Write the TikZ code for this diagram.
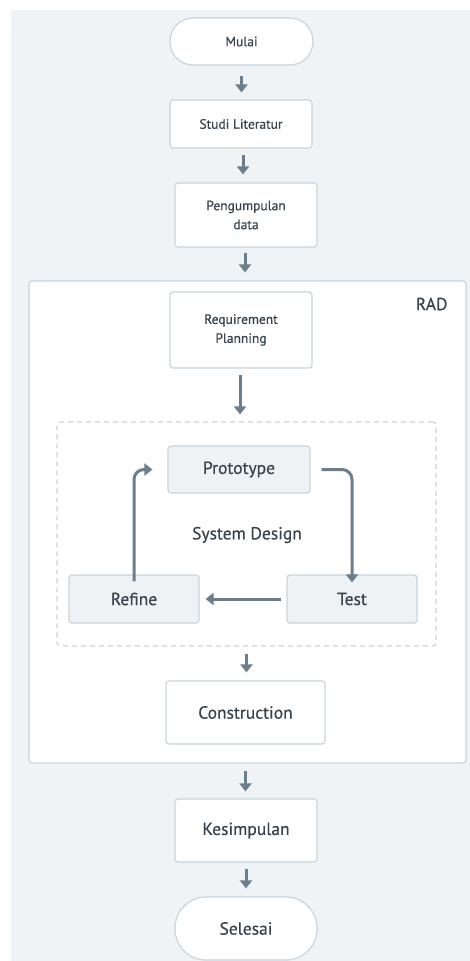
\documentclass[tikz,border=0pt]{standalone}
\usepackage{fontspec}
\setmainfont{PT Sans}[FakeBold=0.5]
\usetikzlibrary{arrows.meta}
\definecolor{bg}{HTML}{EFF3F6}
\definecolor{bd}{HTML}{C9D4DD}
\definecolor{lf}{HTML}{EEF2F5}
\definecolor{ac}{HTML}{6C7D8C}
\definecolor{tx}{HTML}{38434E}
\tikzset{
  base/.style={draw=bd, line width=1.2pt, text=tx, align=center, inner sep=0pt},
  sbox/.style={base, fill=white, rounded corners=3pt, minimum width=142pt, font=\fontsize{13.5}{19}\selectfont},
  lbox/.style={base, fill=white, rounded corners=3pt, minimum width=142pt, font=\fontsize{17.5}{22}\selectfont},
  gbox/.style={base, fill=lf, rounded corners=3pt, minimum width=142pt, minimum height=47pt, font=\fontsize{17.5}{22}\selectfont},
  term/.style={base, fill=white, rounded corners=23pt, minimum width=143pt},
  arr/.style={draw=ac, line width=3pt, -{Triangle[width=12pt,length=8pt]}},
}
\begin{document}
\begin{tikzpicture}[x=1pt,y=-1pt]
\useasboundingbox (0,0) rectangle (470,961);
\fill[bg] (11,10) rectangle (470,961);
% RAD container
\node[draw=bd, line width=1.2pt, fill=white, rounded corners=3pt, minimum width=437pt, minimum height=482pt, inner sep=0pt] (rad) at (247.5,522) {};
\node[text=tx, font=\fontsize{17.5}{22}\selectfont, anchor=east] (radl) at (451,304) {RAD};
% dashed system design box
\node[draw=bd, line width=1.2pt, dashed, dash pattern=on 5pt off 4pt, rounded corners=3pt, minimum width=379pt, minimum height=224pt, inner sep=0pt] (sd) at (246.5,534) {};
\node[text=tx, font=\fontsize{17.5}{22}\selectfont] (sdl) at (247,535) {System Design};

\node[term, minimum height=47pt, font=\fontsize{13.5}{19}\selectfont] (mulai) at (241.5,41.5) {Mulai};
\node[sbox, minimum height=48pt] (studi) at (241,124) {Studi Literatur};
\node[sbox, minimum height=64pt] (peng) at (246,215) {Pengumpulan\\data};
\node[sbox, minimum height=76pt] (req) at (241,330) {Requirement\\Planning};
\node[gbox] (proto) at (239,469.5) {Prototype};
\node[gbox, minimum width=130pt, minimum height=48pt] (refine) at (134,599) {Refine};
\node[gbox, minimum width=130pt, minimum height=48pt] (test) at (352,599) {Test};
\node[lbox, minimum width=159pt, minimum height=63pt] (cons) at (245.5,712.5) {Construction};
\node[lbox, minimum height=63pt] (kes) at (246,830.5) {Kesimpulan};
\node[term, rounded corners=31pt, minimum width=142pt, minimum height=63pt, font=\fontsize{17.5}{22}\selectfont] (sel) at (246,928.5) {Selesai};

\draw[arr, shorten <=10pt, shorten >=7pt] (mulai.south) -- (mulai.south |- studi.north);
\draw[arr, shorten <=6pt, shorten >=8pt] ([xshift=2pt]studi.south) -- ([xshift=2pt]studi.south |- peng.north);
\draw[arr, shorten <=5pt, shorten >=8pt] ([xshift=-1pt]peng.south) -- ([xshift=-1pt]peng.south |- rad.north);
\draw[arr, shorten <=6pt, shorten >=7pt] ([xshift=-1pt]req.south) -- ([xshift=-1pt]req.south |- sd.north);
\draw[arr, shorten <=7pt, shorten >=8pt] (sd.south) -- (sd.south |- cons.north);
\draw[arr, shorten <=7pt, shorten >=7pt] (cons.south |- rad.south) -- (cons.south |- kes.north);
\draw[arr, shorten <=6pt, shorten >=8pt] (kes.south) -- (kes.south |- sel.north);
% loop
\draw[arr, rounded corners=10pt] ([yshift=-7pt]refine.north) |- ([xshift=-15pt]proto.west);
\draw[arr, rounded corners=10pt] ([xshift=11pt]proto.east) -| ([yshift=-8pt]test.north);
\draw[arr] ([xshift=-5pt]test.west) -- ([xshift=6pt]refine.east);
\end{tikzpicture}
\end{document}
